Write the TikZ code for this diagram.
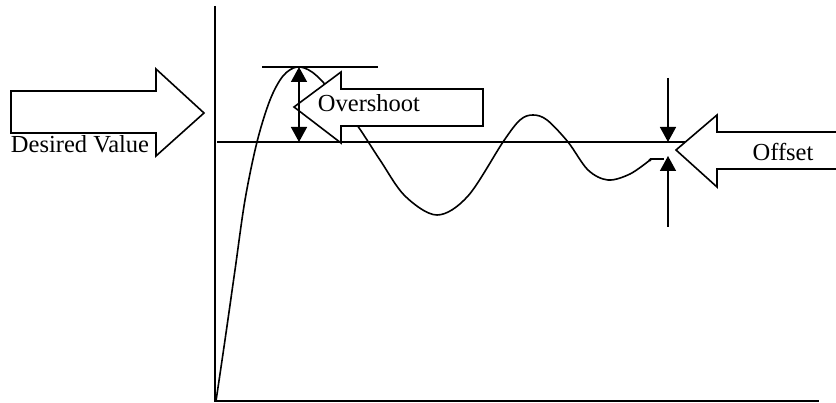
\documentclass[tikz,border=0pt]{standalone}
\usepackage{fontspec}
\setmainfont{Liberation Serif}
\usetikzlibrary{arrows.meta}

\begin{document}
\begin{tikzpicture}[
  x=1pt, y=-1pt,
  line/.style={line width=1.5pt, draw=black},
  curve/.style={line width=1.6pt, draw=black, line join=round},
  blockarrow/.style={line width=1.6pt, draw=black, fill=white, line join=miter},
  tip/.style={-{Triangle[length=15pt, width=16pt]}},
  dimarrow/.style={line width=1.5pt, tip},
  label/.style={font=\fontsize{24.5}{28}\selectfont, inner sep=0pt, anchor=base}
]
  \useasboundingbox (0,0) rectangle (836,403);

  % axes
  \coordinate (origin) at (215,401);
  \coordinate (ytop) at (215,6);
  \coordinate (xend) at (819,401);
  \draw[line] (ytop) -- (origin) -- (xend);

  % set point and overshoot level
  \coordinate (spstart) at (217,142);
  \coordinate (spend) at (685,142);
  \draw[line] (spstart) -- (spend);
  \coordinate (pkleft) at (262,67);
  \coordinate (pkright) at (378,67);
  \draw[line] (pkleft) -- (pkright);

  % response
  \draw[curve] plot[smooth, tension=0.55] coordinates {
    (216,401) (225,340) (235,270) (245,200) (257,142) (270,100) (283,76)
    (297,67) (312,72) (330,90) (357,125) (380,160) (405,196) (437,215)
    (468,196) (503,142) (520,120) (533,115) (547,120) (568,142) (588,170)
    (608,180) (630,174) (650,160)};
  \fill (650,160) circle (1.6pt);
  \coordinate (settle) at (650,159);
  \coordinate (settleend) at (664,159);
  \draw[line] (settle) -- (settleend);

  % block arrows
  \draw[blockarrow] (11,91) -- (156,91) -- (156,69) -- (204,113) -- (156,156)
    -- (156,133) -- (11,133) -- cycle;
  \node[label] (desired) at (80,153) {Desired Value};

  \draw[blockarrow] (483,89) -- (341,89) -- (341,72) -- (294,107) -- (341,143)
    -- (341,126) -- (483,126) -- cycle;
  \node[label] (over) at (369,112) {Overshoot};

  \draw[blockarrow] (838,132) -- (717,132) -- (717,115) -- (676,150) -- (717,187)
    -- (717,169) -- (838,169);
  \node[label] (offset) at (783,161) {Offset};

  % dimension arrows
  \coordinate (ovbot) at (299,142);
  \coordinate (ovtop) at (299,67);
  \draw[line width=1.5pt, {Triangle[length=15pt, width=16pt]}-{Triangle[length=15pt, width=16pt]}]
    (ovtop) -- (ovbot);

  \coordinate (offtop) at (668,78);
  \coordinate (offhi) at (668,142);
  \coordinate (offbot) at (668,227);
  \coordinate (offlo) at (668,156);
  \draw[dimarrow] (offtop) -- (offhi);
  \draw[dimarrow] (offbot) -- (offlo);
\end{tikzpicture}
\end{document}
